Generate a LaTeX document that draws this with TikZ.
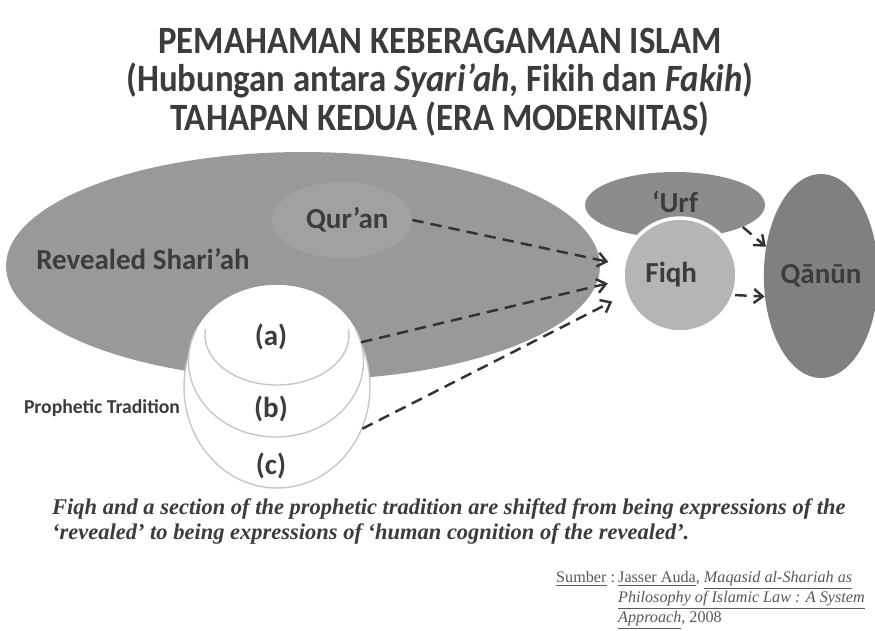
\documentclass[tikz,border=0pt]{standalone}
\usepackage{fontspec}
\setmainfont{Carlito}
\newfontfamily\titlefont[FakeStretch=0.9]{Carlito}
\newfontfamily\noteserif{Liberation Serif}
\usetikzlibrary{shapes.geometric,arrows.meta}
\definecolor{txtgray}{HTML}{3C3C3C}
\definecolor{arrowgray}{HTML}{333333}
\tikzset{
  blob/.style={ellipse, inner sep=0pt, draw=none},
  ring/.style={ellipse, inner sep=0pt, fill=white},
  rim/.style={draw=black!22, line width=0.8pt},
  lbl/.style={font=\bfseries\fontsize{16.5}{16.5}\selectfont, text=txtgray},
  flow/.style={draw=arrowgray, line width=1.4pt, dash pattern=on 6.5pt off 4pt,
    -{Straight Barb[length=5pt,width=8pt]}, shorten >=8pt}
}
\begin{document}
\begin{tikzpicture}[x=0.02cm,y=-0.02cm]
  \useasboundingbox[fill=white] (0,0) rectangle (875,630);

  % Title
  \node[font=\titlefont\bfseries\fontsize{22}{22}\selectfont, text=txtgray, align=center] (title) at (440,82)
    {PEMAHAMAN KEBERAGAMAAN ISLAM\\
     (Hubungan antara \textit{Syari’ah}, Fikih dan \textit{Fakih})\\
     TAHAPAN KEDUA (ERA MODERNITAS)};

  % Draw revealed shari'ah and qur'an
  \node[blob, fill=black!40, minimum width=11.88cm, minimum height=4.56cm] (revealed) at (303,266) {};
  \node[lbl] (revlabel) at (143,259) {Revealed Shari’ah};
  \node[blob, fill=black!37, minimum width=2.8cm, minimum height=1.52cm, lbl] (quran) at (342,220) {\hspace{6pt}Qur’an};

  % Draw prophetic tradition circles
  \node[ring, rim, minimum width=3.72cm, minimum height=4.04cm] (tradc) at (277,387) {};
  \node[ring, minimum width=3.5cm, minimum height=3.04cm] (tradb) at (276,361) {};
  \node[ring, minimum width=2.88cm, minimum height=2.0cm] (trada) at (277,335) {};
  % only the lower rims of the inner circles show
  \begin{scope}
    \clip (150,329) rectangle (400,500);
    \draw[rim] (tradb.center) ellipse (87.5 and 76);
    \draw[rim] (trada.center) ellipse (72 and 50);
  \end{scope}
  \node[lbl] (la) at (271,337) {(a)};
  \node[lbl] (lb) at (271,409) {(b)};
  \node[lbl] (lc) at (271,466) {(c)};
  \node[font=\bfseries\fontsize{11.2}{12}\selectfont, text=txtgray] (prophetic) at (102,408) {Prophetic Tradition};

  % Draw urf, fiqh and qanun
  \node[blob, fill=black!45, minimum width=3.6cm, minimum height=1.32cm, lbl] (urf) at (675,205) {\raisebox{4pt}{‘Urf}};
  \node[circle, inner sep=0pt, fill=black!29, draw=white, line width=2pt, minimum size=2.28cm, lbl] (fiqh) at (680,275) {\hspace{-10pt}Fiqh};
  \node[blob, fill=black!50, minimum width=1.92cm, minimum height=4.08cm, lbl] (qanun) at (821,276) {Qānūn};

  % Draw arrows
  \draw[flow] (quran.east) -- (fiqh.170);
  \draw[flow] (tradc.28) -- (fiqh.185);
  \draw[flow] (tradc.-26) -- (fiqh.200);
  \draw[flow, shorten >=0pt] (urf.-18) -- (qanun.152);
  \draw[flow, shorten >=0pt] (fiqh.-20) -- (qanun.200);

  % Caption and source
  \node[font=\noteserif\bfseries\itshape\fontsize{12.8}{14.2}\selectfont, text=txtgray, align=left, anchor=west] (caption) at (46,521)
    {Fiqh and a section of the prophetic tradition are shifted from being expressions of the\\
     ‘revealed’ to being expressions of ‘human cognition of the revealed’.};
  \node[font=\noteserif\fontsize{9.2}{10}\selectfont, text=black!65, anchor=north west] (sumber) at (550,565)
    {\underline{Sumber} :};
  \node[font=\noteserif\fontsize{9.2}{10}\selectfont, text=black!65, align=left, anchor=north west] (source) at (612,565)
    {\underline{Jasser Auda}, \underline{\textit{Maqasid al-Shariah as}}\\
     \underline{\textit{Philosophy of Islamic Law : A System}}\\
     \underline{\textit{Approach}}, 2008};
\end{tikzpicture}
\end{document}
